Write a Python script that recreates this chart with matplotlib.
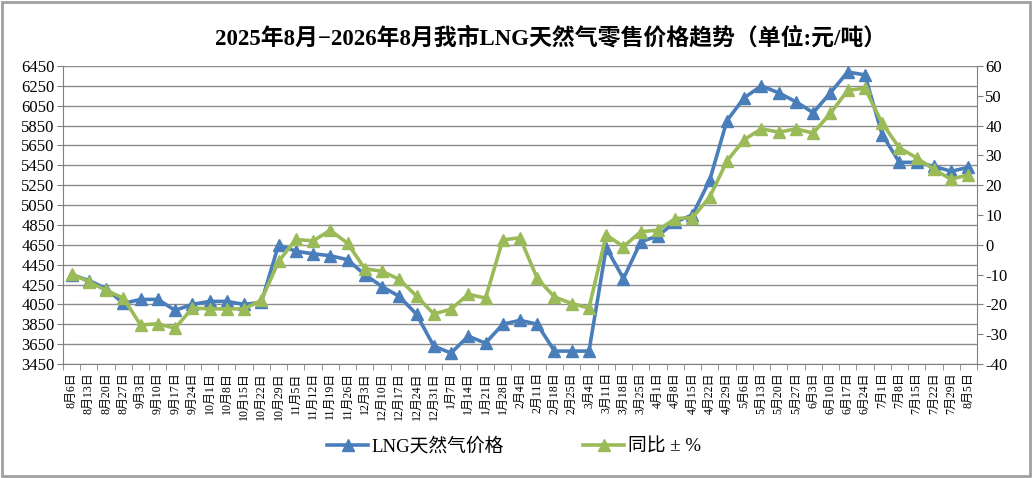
import matplotlib
matplotlib.use("Agg")
import matplotlib.pyplot as plt
from matplotlib.patches import Rectangle
from matplotlib.lines import Line2D
import numpy as np

plt.rcParams['font.family'] = ['Liberation Serif', 'Noto Sans CJK SC', 'DejaVu Sans']
plt.rcParams['axes.unicode_minus'] = True

dates = ["8月6日", "8月13日", "8月20日", "8月27日", "9月3日", "9月10日", "9月17日", "9月24日",
         "10月1日", "10月8日", "10月15日", "10月22日", "10月29日", "11月5日", "11月12日", "11月19日",
         "11月26日", "12月3日", "12月10日", "12月17日", "12月24日", "12月31日", "1月7日", "1月14日",
         "1月21日", "1月28日", "2月4日", "2月11日", "2月18日", "2月25日", "3月4日", "3月11日",
         "3月18日", "3月25日", "4月1日", "4月8日", "4月15日", "4月22日", "4月29日", "5月6日",
         "5月13日", "5月20日", "5月27日", "6月3日", "6月10日", "6月17日", "6月24日", "7月1日",
         "7月8日", "7月15日", "7月22日", "7月29日", "8月5日"]

price = [4350, 4290, 4210, 4060, 4100, 4100, 3990, 4050, 4080, 4080, 4050, 4070,
         4650, 4585, 4560, 4540, 4500, 4350, 4230, 4130, 3950, 3630, 3560, 3730,
         3660, 3850, 3890, 3850, 3580, 3580, 3580, 4620, 4310, 4680, 4740, 4880,
         4950, 5300, 5900, 6130, 6250, 6180, 6090, 5980, 6180, 6390, 6360, 5760,
         5480, 5480, 5440, 5390, 5430]

yoy = [-9.8, -12.4, -15.3, -17.9, -26.9, -26.5, -28.0, -21.2, -21.5, -21.5, -21.5, -18.6,
       -5.6, 1.8, 1.3, 4.9, 0.5, -8.0, -8.9, -11.6, -17.2, -23.2, -21.6, -16.6,
       -17.9, 1.6, 2.4, -11.3, -17.5, -19.7, -21.2, 3.3, -0.6, 4.4, 4.9, 8.8,
       9.1, 16.0, 28.1, 35.3, 38.9, 37.8, 38.9, 37.5, 44.1, 51.8, 52.6, 40.8,
       32.5, 29.2, 25.3, 22.0, 23.5]

left_ticks = list(range(3450, 6451, 200))
right_ticks = list(range(-40, 61, 10))

title = "2025年8月−2026年8月我市LNG天然气零售价格趋势（单位:元/吨）"
blue = "#4A7EBB"
green = "#9BBB59"

fig = plt.figure(figsize=(10.32, 4.78), dpi=100)
ax = fig.add_axes([63/1032, 1-364/478, (977-63)/1032, (364-66)/478])
ax2 = ax.twinx()

x = np.arange(len(dates))
ax.plot(x, price, color=blue, lw=2.6, marker='^', ms=8.5, mfc=blue, mec=blue, zorder=3)
ax2.plot(x, yoy, color=green, lw=2.6, marker='^', ms=8.5, mfc=green, mec=green, zorder=3)

ax.set_xlim(-0.5, len(dates)-0.5)
ax.set_ylim(3450, 6450)
ax2.set_ylim(-40, 60)
ax.set_yticks(left_ticks)
ax2.set_yticks(right_ticks)
ax.set_yticklabels([str(v) for v in left_ticks], fontsize=12)
ax2.set_yticklabels([str(v) for v in right_ticks], fontsize=12)

ax.set_xticks(x)
ax.set_xticklabels(dates, rotation=90, fontsize=8.6, va='top', ha='center')
ax.set_xticks(np.arange(-0.5, len(dates), 1), minor=True)
ax.tick_params(axis='x', which='major', length=0, pad=6)
ax.tick_params(axis='x', which='minor', length=4, color='#808080', direction='out')
ax.tick_params(axis='y', length=4, color='#808080', pad=2)
ax2.tick_params(axis='y', length=4, color='#808080', pad=2)

ax.grid(axis='y', color='#8c8c8c', lw=1)
ax.set_axisbelow(True)
for s in ['top', 'right']:
    ax.spines[s].set_visible(False)
ax.spines['left'].set_color('#808080')
ax.spines['bottom'].set_color('#808080')
for s in ['top', 'left', 'bottom']:
    ax2.spines[s].set_visible(False)
ax2.spines['right'].set_color('#808080')

fig.text(551/1032, 1-38/478, title, ha='center', va='center', fontsize=16.5, fontweight='bold',
         family=['Liberation Serif', 'Noto Sans CJK SC'])

handles = [Line2D([], [], color=blue, lw=2.6, marker='^', ms=8.5),
           Line2D([], [], color=green, lw=2.6, marker='^', ms=8.5)]
fig.legend(handles, ["LNG天然气价格", "同比 ± %"], loc='center', bbox_to_anchor=(514/1032, 1-447/478),
           ncol=2, frameon=False, fontsize=13.5, handlelength=2.2, columnspacing=4.2, handletextpad=0.2)

fig.patches.append(Rectangle((0.002, 0.004), 0.996, 0.992, transform=fig.transFigure,
                             fill=False, edgecolor='#a0a0a0', lw=2))

fig.savefig("out.png", dpi=100)
